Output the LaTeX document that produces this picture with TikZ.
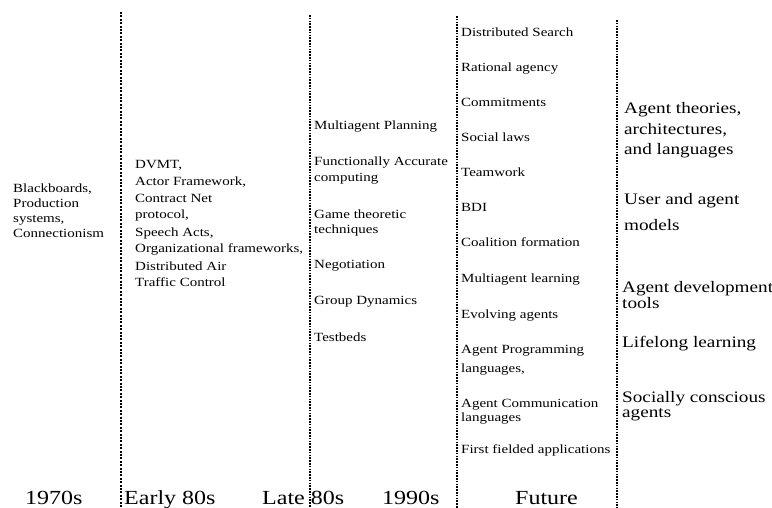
\documentclass[tikz,border=0pt]{standalone}
\usepackage{fontspec}
\setmainfont{Liberation Serif}[FakeStretch=1.2]
\usepackage{tikz}
\usetikzlibrary{positioning}

\begin{document}
\begin{tikzpicture}[
  x=1pt, y=-1pt,
  item/.style={anchor=base west, inner sep=0pt, align=left,
               font=\fontsize{12.5}{16}\selectfont},
  bigitem/.style={item, font=\fontsize{16}{20.5}\selectfont},
  era/.style={anchor=base west, inner sep=0pt, font=\fontsize{20}{24}\selectfont},
  divider/.style={line width=2.2pt, dash pattern=on 1.6pt off 1.2pt},
  thindivider/.style={line width=1.3pt, dash pattern=on 2pt off 1.4pt}
]
\useasboundingbox (0,0) rectangle (772,508);

% dividers
\draw[thindivider] (121,12) -- (121,508);
\draw[divider] (310,15) -- (310,508);
\draw[divider] (457,16) -- (457,508);
\draw[divider] (617,20) -- (617,508);

% 1970s (multi-line nodes sit on their last baseline)
\node[item, font=\fontsize{12.5}{15}\selectfont] (blackboards) at (13,237)
  {Blackboards,\\Production\\systems,\\Connectionism};

% early 80s
\node[item, font=\fontsize{12.5}{17}\selectfont] (dvmt) at (135,287)
  {DVMT,\\Actor Framework,\\Contract Net\\protocol,\\Speech Acts,\\Organizational frameworks,\\Distributed Air\\Traffic Control};

% late 80s / 1990s
\node[item] (planning) at (314,130) {Multiagent Planning};
\node[item] (accurate) at (314,182) {Functionally Accurate\\computing};
\node[item] (game) at (314,234) {Game theoretic\\techniques};
\node[item] (negotiation) at (314,269) {Negotiation};
\node[item] (dynamics) at (314,305) {Group Dynamics};
\node[item] (testbeds) at (314,341) {Testbeds};

% future
\node[item] (search) at (461,37) {Distributed Search};
\node[item] (rational) at (461,72) {Rational agency};
\node[item] (commit) at (461,107) {Commitments};
\node[item] (laws) at (461,142) {Social laws};
\node[item] (teamwork) at (461,177) {Teamwork};
\node[item] (bdi) at (461,212) {BDI};
\node[item] (coalition) at (461,247) {Coalition formation};
\node[item] (learning) at (461,283) {Multiagent learning};
\node[item] (evolving) at (461,318) {Evolving agents};
\node[item] (programming) at (461,372) {Agent Programming\\[3pt]languages,};
\node[item] (communication) at (461,421) {Agent Communication\\[-2pt]languages};
\node[item] (fielded) at (461,453) {First fielded applications};

% beyond
\node[bigitem] (theories) at (624,155) {Agent theories,\\architectures,\\and languages};
\node[bigitem] (models) at (624,230) {User and agent\\[4.5pt]models};
\node[bigitem] (tools) at (622,308) {Agent development\\[-4.5pt]tools};
\node[bigitem] (lifelong) at (622,347) {Lifelong learning};
\node[bigitem] (conscious) at (622,417) {Socially conscious\\[-6pt]agents};

% eras
\node[era] (seventies) at (25,504.5) {1970s};
\node[era] (early) at (124,504.5) {Early 80s};
\node[era] (late) at (262,504.5) {Late 80s};
\node[era] (nineties) at (382,504.5) {1990s};
\node[era] (future) at (515,504.5) {Future};

\end{tikzpicture}
\end{document}
